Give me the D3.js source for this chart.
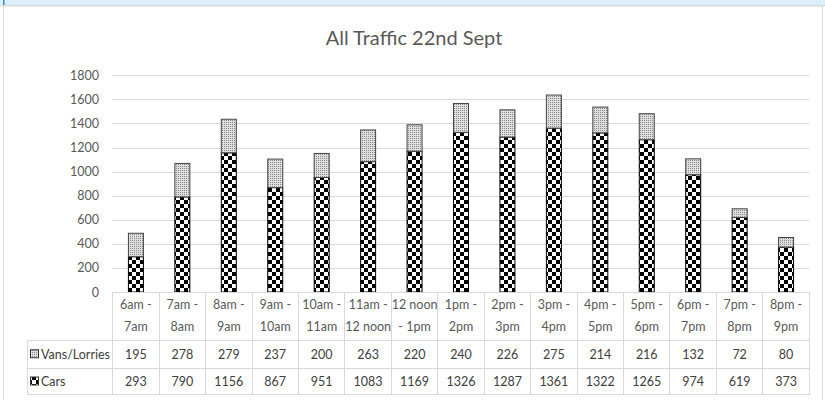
<!DOCTYPE html>
<html>
<head>
<meta charset="utf-8">
<script src="https://cdn.jsdelivr.net/npm/d3@7"></script>
<style>
  html, body { margin: 0; padding: 0; background: #fff; }
  svg { display: block; }
  text { font-family: Lato, "Open Sans", sans-serif; }
</style>
</head>
<body>
<svg id="chart" width="825" height="400"></svg>
<script>
'use strict';

// data
var categories = [
    ['6am -', '7am'], ['7am -', '8am'], ['8am -', '9am'], ['9am -', '10am'],
    ['10am -', '11am'], ['11am -', '12 noon'], ['12 noon', '- 1pm'], ['1pm -', '2pm'],
    ['2pm -', '3pm'], ['3pm -', '4pm'], ['4pm -', '5pm'], ['5pm -', '6pm'],
    ['6pm -', '7pm'], ['7pm -', '8pm'], ['8pm -', '9pm']
];
var vans = [195, 278, 279, 237, 200, 263, 220, 240, 226, 275, 214, 216, 132, 72, 80];
var cars = [293, 790, 1156, 867, 951, 1083, 1169, 1326, 1287, 1361, 1322, 1265, 974, 619, 373];
var yTicks = [0, 200, 400, 600, 800, 1000, 1200, 1400, 1600, 1800];
var seriesNames = ['Vans/Lorries', 'Cars'];

(function() {
    var svg = d3.select('#chart');
    var grid = '#d9d9d9';

    // patterns
    var defs = svg.append('defs');
    var chk = defs.append('pattern')
        .attr('id', 'pCars')
        .attr('patternUnits', 'userSpaceOnUse')
        .attr('width', 8).attr('height', 8);
    chk.append('rect').attr('width', 8).attr('height', 8).attr('fill', '#fff');
    chk.append('rect').attr('width', 4).attr('height', 4).attr('fill', '#000');
    chk.append('rect').attr('x', 4).attr('y', 4).attr('width', 4).attr('height', 4).attr('fill', '#000');

    var dot = defs.append('pattern')
        .attr('id', 'pVans')
        .attr('patternUnits', 'userSpaceOnUse')
        .attr('width', 2).attr('height', 2);
    dot.append('rect').attr('width', 2).attr('height', 2).attr('fill', '#dedede');
    dot.append('rect').attr('width', 1).attr('height', 1).attr('fill', '#8a8a8a');

    // frame
    svg.append('rect').attr('x', 0).attr('y', 0).attr('width', 825).attr('height', 5).attr('fill', '#ddeefb');
    svg.append('line').attr('x1', 0).attr('x2', 825).attr('y1', 5.5).attr('y2', 5.5).attr('stroke', '#cfd6dd');
    svg.append('rect').attr('x', 3).attr('y', 0).attr('width', 1.5).attr('height', 5).attr('fill', '#3a86d4');
    svg.append('rect').attr('x', 3.5).attr('y', 6).attr('width', 819).attr('height', 400)
        .attr('fill', '#fff').attr('stroke', grid);

    var left = 112.7, right = 809.3, top = 75.3, base = 292;

    var x = d3.scaleBand()
        .domain(d3.range(categories.length))
        .range([left, right]);
    var y = d3.scaleLinear()
        .domain([0, 1800])
        .range([base, top]);

    // title
    svg.append('text')
        .attr('x', 414).attr('y', 45)
        .attr('text-anchor', 'middle')
        .attr('font-size', 20)
        .attr('fill', '#595959')
        .text('All Traffic 22nd Sept');

    // gridlines + y labels
    svg.append('g').selectAll('line')
        .data(yTicks.filter(function(d) { return d > 0; }))
        .enter().append('line')
        .attr('x1', left).attr('x2', right)
        .attr('y1', function(d) { return Math.round(y(d)) + 0.5; })
        .attr('y2', function(d) { return Math.round(y(d)) + 0.5; })
        .attr('stroke', grid);

    svg.append('g').selectAll('text')
        .data(yTicks)
        .enter().append('text')
        .attr('x', 99).attr('y', function(d) { return y(d) + 4.5; })
        .attr('text-anchor', 'end')
        .attr('font-size', 12.5)
        .attr('fill', '#595959')
        .text(function(d) { return d; });

    // bars
    var bw = 15;
    var bars = svg.append('g');
    bars.selectAll('rect.cars')
        .data(cars)
        .enter().append('rect')
        .attr('class', 'cars')
        .attr('x', function(d, i) { return x(i) + x.bandwidth() / 2 - bw / 2; })
        .attr('y', function(d) { return y(d); })
        .attr('width', bw)
        .attr('height', function(d) { return base - y(d); })
        .attr('fill', 'url(#pCars)')
        .attr('stroke', '#000');
    bars.selectAll('rect.vans')
        .data(vans)
        .enter().append('rect')
        .attr('class', 'vans')
        .attr('x', function(d, i) { return x(i) + x.bandwidth() / 2 - bw / 2; })
        .attr('y', function(d, i) { return y(d + cars[i]); })
        .attr('width', bw)
        .attr('height', function(d, i) { return y(cars[i]) - y(d + cars[i]); })
        .attr('fill', 'url(#pVans)')
        .attr('stroke', '#444');

    // data table
    var rowY = [base, 340, 368.5, 394.5];
    var legLeft = 27;
    var tbl = svg.append('g').attr('stroke', grid).attr('shape-rendering', 'crispEdges');
    tbl.append('line').attr('x1', left).attr('x2', right).attr('y1', rowY[0]).attr('y2', rowY[0]);
    rowY.slice(1).forEach(function(r) {
        tbl.append('line').attr('x1', legLeft).attr('x2', right).attr('y1', r).attr('y2', r);
    });
    d3.range(categories.length + 1).forEach(function(i) {
        var xx = i < categories.length ? x(i) : right;
        tbl.append('line').attr('x1', xx).attr('x2', xx).attr('y1', rowY[0]).attr('y2', rowY[3]);
    });
    tbl.append('line').attr('x1', legLeft).attr('x2', legLeft).attr('y1', rowY[1]).attr('y2', rowY[3]);

    var cat = svg.append('g');
    categories.forEach(function(c, i) {
        var t = cat.append('text')
            .attr('x', x(i) + x.bandwidth() / 2)
            .attr('text-anchor', 'middle')
            .attr('font-size', 12.5)
            .attr('fill', '#595959');
        t.append('tspan').attr('x', x(i) + x.bandwidth() / 2).attr('y', 309).text(c[0]);
        t.append('tspan').attr('x', x(i) + x.bandwidth() / 2).attr('y', 331).text(c[1]);
    });

    [vans, cars].forEach(function(series, r) {
        var cy = (rowY[r + 1] + rowY[r + 2]) / 2;
        svg.append('g').selectAll('text')
            .data(series)
            .enter().append('text')
            .attr('x', function(d, i) { return x(i) + x.bandwidth() / 2; })
            .attr('y', cy + 4.5)
            .attr('text-anchor', 'middle')
            .attr('font-size', 12.5)
            .attr('fill', '#404040')
            .text(function(d) { return d; });

        svg.append('rect')
            .attr('x', 30.5).attr('y', cy - 4.5)
            .attr('width', 8).attr('height', 8)
            .attr('fill', r === 0 ? 'url(#pVans)' : 'url(#pCars)')
            .attr('stroke', '#333');
        svg.append('text')
            .attr('x', 41).attr('y', cy + 4.5)
            .attr('font-size', 12.5)
            .attr('fill', '#404040')
            .text(seriesNames[r]);
    });
})();
</script>
</body>
</html>
